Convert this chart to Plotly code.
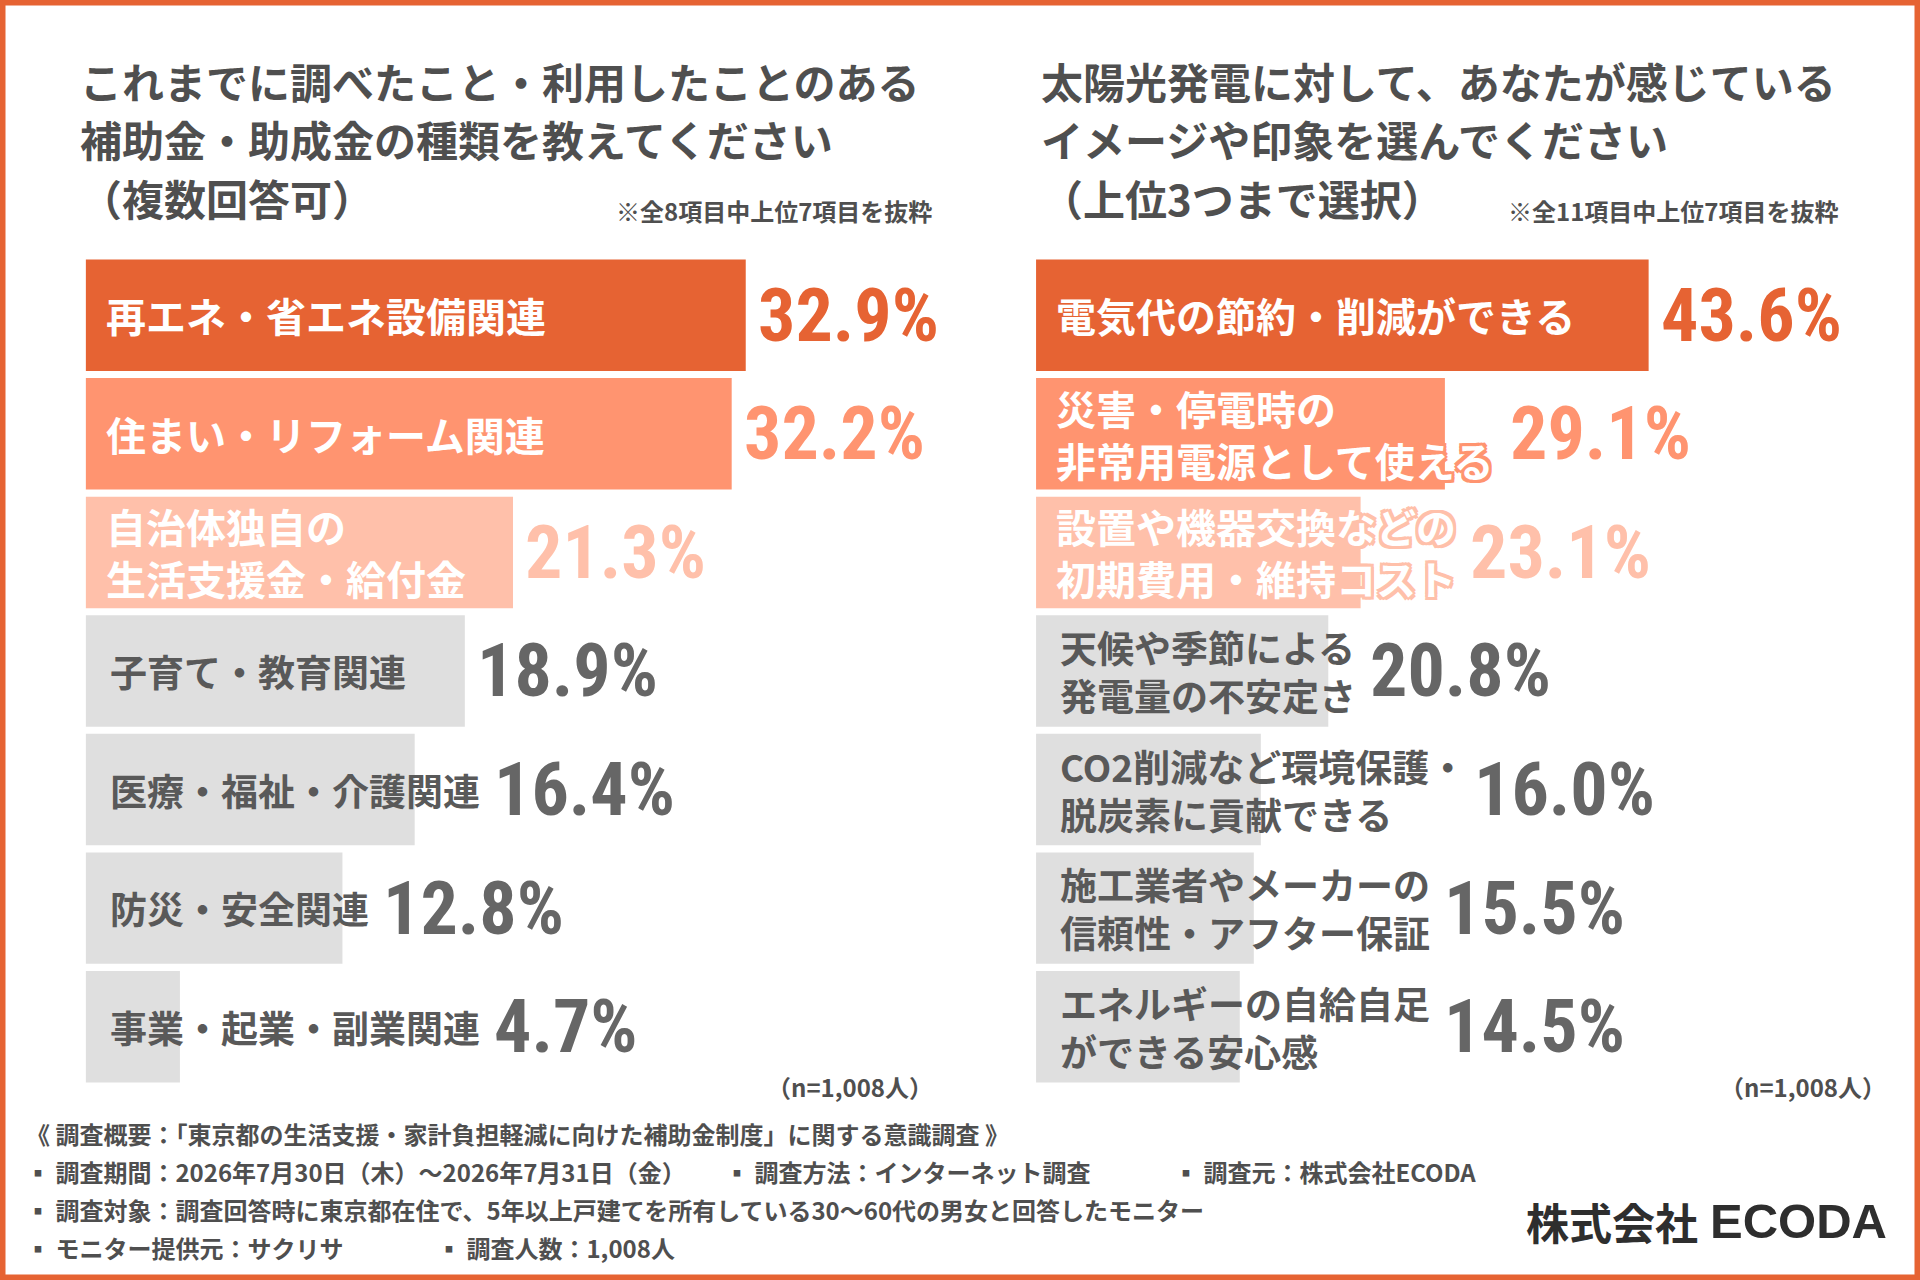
import plotly.graph_objects as go

# data
left_labels = ["再エネ・省エネ設備関連", "住まい・リフォーム関連", "自治体独自の\n生活支援金・給付金",
               "子育て・教育関連", "医療・福祉・介護関連", "防災・安全関連", "事業・起業・副業関連"]
left_values = [32.9, 32.2, 21.3, 18.9, 16.4, 12.8, 4.7]

right_labels = ["電気代の節約・削減ができる", "災害・停電時の\n非常用電源として使える",
                "設置や機器交換などの\n初期費用・維持コスト", "天候や季節による\n発電量の不安定さ",
                "CO2削減など環境保護・\n脱炭素に貢献できる", "施工業者やメーカーの\n信頼性・アフター保証",
                "エネルギーの自給自足\nができる安心感"]
right_values = [43.6, 29.1, 23.1, 20.8, 16.0, 15.5, 14.5]

left_title = ["これまでに調べたこと・利用したことのある", "補助金・助成金の種類を教えてください", "（複数回答可）"]
right_title = ["太陽光発電に対して、あなたが感じている", "イメージや印象を選んでください", "（上位3つまで選択）"]
left_note = "※全8項目中上位7項目を抜粋"
right_note = "※全11項目中上位7項目を抜粋"
n_text = "（n=1,008人）"

footer_lines = [
    ["《 調査概要：「東京都の生活支援・家計負担軽減に向けた補助金制度」に関する意識調査 》"],
    ["▪ 調査期間：2026年7月30日（木）～2026年7月31日（金）", "▪ 調査方法：インターネット調査", "▪ 調査元：株式会社ECODA"],
    ["▪ 調査対象：調査回答時に東京都在住で、5年以上戸建てを所有している30～60代の男女と回答したモニター"],
    ["▪ モニター提供元：サクリサ", "▪ 調査人数：1,008人"],
]
footer_cols = [[24], [24, 723, 1172], [24], [24, 435]]

bar_colors = ["#E66333", "#FF9470", "#FFC0AA", "#DFDFDF", "#DFDFDF", "#DFDFDF", "#DFDFDF"]
value_colors = ["#E66333", "#FF9470", "#FFC0AA", "#666666", "#666666", "#666666", "#666666"]

W, H = 1920, 1280
JP = "Noto Sans CJK JP"
NUM = "Roboto Condensed, DejaVu Sans Condensed, Liberation Sans Narrow, Liberation Sans, sans-serif"
TEXT = "#4F4F4F"

# axes geometry
panels = [
    dict(xa="x", ya="y", dom=[0.0446, 0.4626], rng=40, labels=left_labels, values=left_values),
    dict(xa="x2", ya="y2", dom=[0.5396, 0.9055], rng=50, labels=right_labels, values=right_values),
]
ydom = [0.1516, 0.8]


def text_px(s, size):
    return sum(size * (0.6 if ord(c) < 0x2000 else 1.0) for c in s)


def outline(c, w=3):
    offs = [(w, 0), (-w, 0), (0, w), (0, -w), (w, w), (-w, -w), (w, -w), (-w, w)]
    return ", ".join(f"{dx}px {dy}px 0 {c}" for dx, dy in offs)


fig = go.Figure()
annotations = []

for p in panels:
    ppu = (p["dom"][1] - p["dom"][0]) * W / p["rng"]
    fig.add_trace(go.Bar(
        x=p["values"], y=p["labels"], orientation="h", width=0.94,
        marker=dict(color=bar_colors, line=dict(width=0)),
        xaxis=p["xa"], yaxis=p["ya"], hoverinfo="skip",
    ))
    for i, (lab, val) in enumerate(zip(p["labels"], p["values"])):
        top3 = i < 3
        size = 40 if top3 else 37
        pad = 18 if top3 else 22
        lines = lab.split("\n")
        font = dict(family=JP, size=size, weight="bold",
                    color="white" if top3 else "#595959")
        if top3:
            font["shadow"] = outline(bar_colors[i])
        annotations.append(dict(
            x=0, y=lab, xref=p["xa"], yref=p["ya"], text="<br>".join(lines), showarrow=False,
            xanchor="left", yanchor="middle", align="left", xshift=pad, font=font,
        ))
        label_end = (pad + max(text_px(l, size) for l in lines)) / ppu
        annotations.append(dict(
            x=max(val, label_end), y=lab, xref=p["xa"], yref=p["ya"],
            text=f"{val:.1f}%", showarrow=False, xanchor="left", yanchor="middle",
            xshift=14 if label_end > val else 10,
            font=dict(family=NUM, size=74, weight="bold", color=value_colors[i]),
        ))

# titles
for lines, x0 in [(left_title, 78), (right_title, 1039)]:
    for k, line in enumerate(lines):
        annotations.append(dict(
            x=x0 / W, y=1 - (80 + 58.5 * k) / H, xref="paper", yref="paper", text=line,
            showarrow=False, xanchor="left", yanchor="middle",
            font=dict(family=JP, size=42, weight="bold", color=TEXT),
        ))

# notes and sample size
for txt, xr, yc in [(left_note, 934, 211), (right_note, 1840, 211)]:
    annotations.append(dict(
        x=xr / W, y=1 - yc / H, xref="paper", yref="paper", text=txt, showarrow=False,
        xanchor="right", yanchor="middle",
        font=dict(family=JP, size=24, weight="bold", color=TEXT),
    ))
for xr in [935, 1888]:
    annotations.append(dict(
        x=xr / W, y=1 - 1086 / H, xref="paper", yref="paper", text=n_text, showarrow=False,
        xanchor="right", yanchor="middle",
        font=dict(family=JP, size=24, weight="bold", color=TEXT),
    ))

# footer
for k, (items, cols) in enumerate(zip(footer_lines, footer_cols)):
    for txt, xc in zip(items, cols):
        annotations.append(dict(
            x=xc / W, y=1 - (1133 + 38.3 * k) / H, xref="paper", yref="paper", text=txt,
            showarrow=False, xanchor="left", yanchor="middle",
            font=dict(family=JP, size=24, weight="bold", color=TEXT),
        ))

# logo
annotations.append(dict(x=1700 / W, y=1 - 1221 / H, xref="paper", yref="paper", text="株式会社",
                        showarrow=False, xanchor="right", yanchor="middle",
                        font=dict(family=JP, size=43, weight="bold", color="#2E2E2E")))
annotations.append(dict(x=1708 / W, y=1 - 1221 / H, xref="paper", yref="paper", text="ECODA",
                        showarrow=False, xanchor="left", yanchor="middle",
                        font=dict(family="Liberation Sans, Arial, sans-serif", size=49, weight="bold", color="#2E2E2E")))

axis_off = dict(showgrid=False, zeroline=False, showticklabels=False, showline=False, ticks="")
fig.update_layout(
    width=W, height=H, margin=dict(l=0, r=0, t=0, b=0),
    paper_bgcolor="white", plot_bgcolor="white", showlegend=False,
    xaxis=dict(domain=panels[0]["dom"], range=[0, panels[0]["rng"]], anchor="y", **axis_off),
    yaxis=dict(domain=ydom, range=[6.5, -0.5], anchor="x", type="category", **axis_off),
    xaxis2=dict(domain=panels[1]["dom"], range=[0, panels[1]["rng"]], anchor="y2", **axis_off),
    yaxis2=dict(domain=ydom, range=[6.5, -0.5], anchor="x2", type="category", **axis_off),
    annotations=annotations,
    shapes=[dict(type="rect", xref="paper", yref="paper", x0=0, y0=0, x1=1, y1=1,
                 line=dict(color="#E66333", width=11), layer="above")],
)

# drop the page's default body margin so the figure sits at the window corner
fig.write_html("out.html", config={"displayModeBar": False},
               post_script="document.body.style.margin='0';")
